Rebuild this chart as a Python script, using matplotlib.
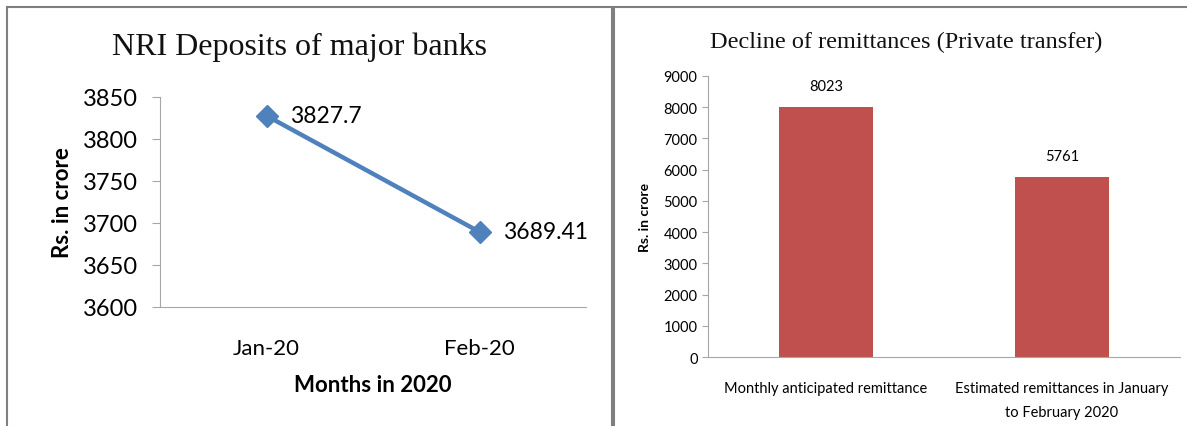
import matplotlib.pyplot as plt
from matplotlib.patches import Rectangle

# NRI deposits (left panel)
months = ["Jan-20", "Feb-20"]
deposits = [3827.7, 3689.41]
deposit_labels = ["3827.7", "3689.41"]
dep_ticks = [3600, 3650, 3700, 3750, 3800, 3850]

# remittances (right panel)
remit_cats = ["Monthly anticipated remittance",
              "Estimated remittances in January\nto February 2020"]
remit_vals = [8023, 5761]
remit_ticks = list(range(0, 9001, 1000))

W, H = 1187, 427
fig = plt.figure(figsize=(W / 100, H / 100), dpi=100)
plt.rcParams['font.family'] = ['Lato', 'DejaVu Sans']
axis_grey = '#a6a6a6'


def px_axes(x0, y_top, x1, y_bot):
    return fig.add_axes([x0 / W, 1 - y_bot / H, (x1 - x0) / W, (y_bot - y_top) / H])


# panel frames
for x0, x1 in [(7, 612), (614, 1192)]:
    fig.patches.append(Rectangle((x0 / W, -0.1), (x1 - x0) / W, 1.1 - 8 / H,
                                 transform=fig.transFigure, fill=False,
                                 edgecolor='#7f7f7f', linewidth=1.5))

# left: line chart
ax = px_axes(160, 98, 586, 308)
xs = [0.5, 1.5]
ax.plot(xs, deposits, color='#4f81bd', linewidth=3.2, marker='D', markersize=11)
for x, y, lab in zip(xs, deposits, deposit_labels):
    ax.annotate(lab, (x, y), xytext=(17, 0), textcoords='offset points',
                va='center', ha='left', fontsize=16.5)
ax.set_xlim(0, 2)
ax.set_ylim(3600, 3850)
ax.set_yticks(dep_ticks)
ax.set_xticks(xs)
ax.set_xticklabels(months)
ax.tick_params(axis='y', labelsize=17, length=6, color=axis_grey, pad=10)
ax.tick_params(axis='x', labelsize=16, length=0, pad=22)
for s in ['top', 'right']:
    ax.spines[s].set_visible(False)
for s in ['left', 'bottom']:
    ax.spines[s].set_color(axis_grey)
ax.set_ylabel("Rs. in crore", fontsize=16, fontweight='bold', labelpad=7)
ax.set_xlabel("Months in 2020", fontsize=16, fontweight='bold', labelpad=12)
fig.text(300 / W, 1 - 47 / H, "NRI Deposits of major banks", ha='center', va='center',
         fontsize=23, family='Liberation Serif', color='#111111')

# right: bar chart
bx = px_axes(708, 77, 1180, 358)
pos = [0.5, 1.5]
bars = bx.bar(pos, remit_vals, width=0.4, color='#c0504d')
for p, v in zip(pos, remit_vals):
    bx.annotate(str(v), (p, v), xytext=(0, 10), textcoords='offset points',
                ha='center', va='bottom', fontsize=10.5)
bx.set_xlim(0, 2)
bx.set_ylim(0, 9000)
bx.set_yticks(remit_ticks)
bx.set_xticks(pos)
bx.set_xticklabels(remit_cats, fontsize=10.5, linespacing=1.9)
bx.tick_params(axis='y', labelsize=10.5, length=4, color=axis_grey)
bx.tick_params(axis='x', length=0, pad=17)
for s in ['top', 'right']:
    bx.spines[s].set_visible(False)
for s in ['left', 'bottom']:
    bx.spines[s].set_color(axis_grey)
bx.set_ylabel("Rs. in crore", fontsize=10, fontweight='bold', labelpad=9)
fig.text(906 / W, 1 - 42 / H, "Decline of remittances (Private transfer)", ha='center',
         va='center', fontsize=17.5, family='Liberation Serif', color='#111111')

fig.savefig("out.png", dpi=100)
